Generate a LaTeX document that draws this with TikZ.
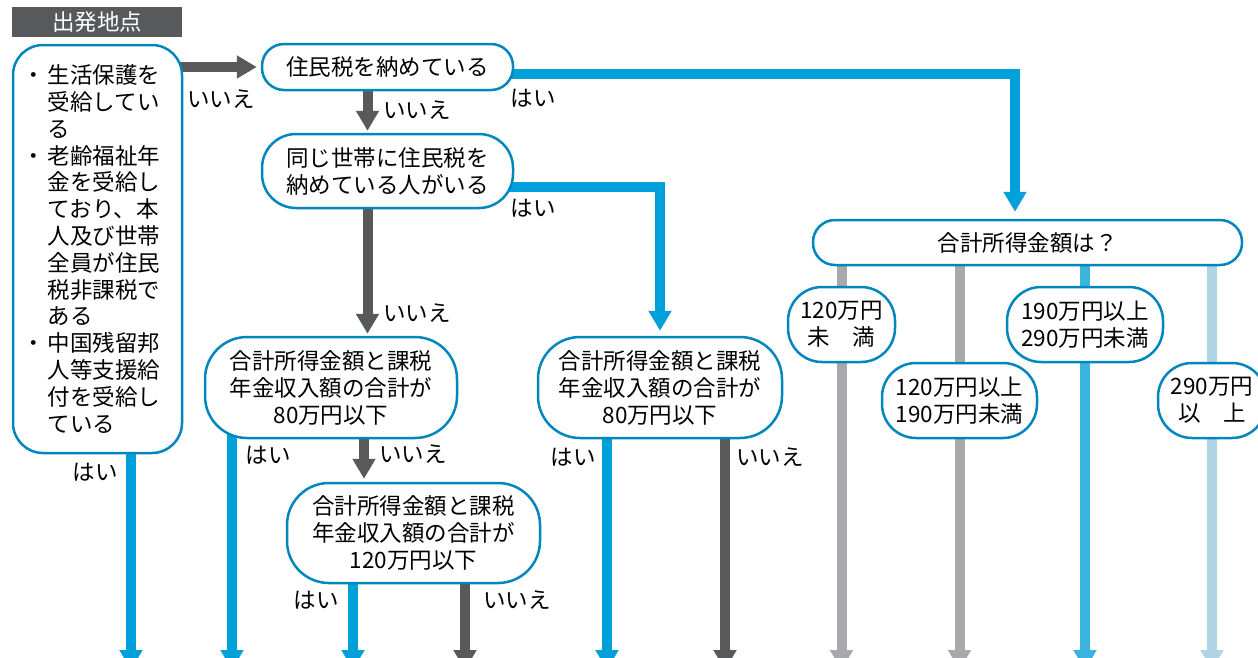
\documentclass[tikz,border=0pt]{standalone}
\usepackage{fontspec}
\setmainfont{Noto Sans CJK JP}
\usepackage{xcolor}
\usetikzlibrary{arrows.meta}
\usetikzlibrary{positioning}
\definecolor{frameblue}{RGB}{0,134,191}
\definecolor{headgray}{RGB}{88,89,91}
\definecolor{yesblue}{RGB}{0,160,218}
\definecolor{nogray}{RGB}{88,89,91}
\definecolor{lowgray}{RGB}{167,169,172}
\definecolor{midblue}{RGB}{59,180,224}
\definecolor{paleblue}{RGB}{174,212,230}
\pgfdeclarelayer{back}
\pgfsetlayers{back,main}
\tikzset{
  box/.style={draw=frameblue,line width=2.5pt,fill=white,inner sep=0pt,align=center},
  flow/.style={line width=10pt,-{Triangle[width=22pt,length=20pt]}},
  yes/.style={flow,draw=yesblue},
  no/.style={flow,draw=nogray},
  lbl/.style={inner sep=0pt},
}
\newcommand{\bul}{\makebox[1.15em][l]{・}}
\newcommand{\ind}{\hspace*{1.15em}}

\begin{document}
\begin{tikzpicture}[x=1pt,y=-1pt,font=\fontsize{22.5}{27}\selectfont]
      \useasboundingbox (0,0) rectangle (1258,657);
      \coordinate (bottom) at (0,670);
      %% start
      \node[fill=headgray,text=white,inner sep=0pt,minimum width=170pt,minimum height=30pt]
           (head) at (97,22) {出発地点};
      \node[box,rounded corners=30pt,minimum width=169pt,minimum height=408pt,
            text width=151pt,align=left,font=\fontsize{22.5}{26.8}\selectfont]
           (start) at (97.5,249)
           {\bul 生活保護を\\\ind 受給してい\\\ind る\\
            \bul 老齢福祉年\\\ind 金を受給し\\\ind ており、本\\\ind 人及び世帯\\
            \ind 全員が住民\\\ind 税非課税で\\\ind ある\\
            \bul 中国残留邦\\\ind 人等支援給\\\ind 付を受給し\\\ind ている};
      %% questions
      \node[box,rounded corners=22pt,minimum width=251pt,minimum height=46pt]
           (A) at (387.5,67) {住民税を納めている};
      \node[box,rounded corners=34pt,minimum width=251pt,minimum height=74pt]
           (B) at (387.5,171) {同じ世帯に住民税を\\納めている人がいる};
      \node[box,rounded corners=42pt,minimum width=252pt,minimum height=101pt]
           (C1) at (331,387.5) {合計所得金額と課税\\年金収入額の合計が\\80万円以下};
      \node[box,rounded corners=42pt,minimum width=253pt,minimum height=100pt]
           (C2) at (413.5,533) {合計所得金額と課税\\年金収入額の合計が\\120万円以下};
      \node[box,rounded corners=42pt,minimum width=244pt,minimum height=101pt]
           (D) at (660,387.5) {合計所得金額と課税\\年金収入額の合計が\\80万円以下};
      \node[box,rounded corners=22pt,minimum width=429pt,minimum height=45pt]
           (E) at (1027.5,242.5) {合計所得金額は？};
      %% income ranges
      \node[box,rounded corners=34pt,minimum width=107pt,minimum height=75pt]
           (F1) at (841.5,324.5) {120万円\\未　満};
      \node[box,rounded corners=34pt,minimum width=155pt,minimum height=75pt]
           (F2) at (959.5,400.5) {120万円以上\\190万円未満};
      \node[box,rounded corners=34pt,minimum width=156pt,minimum height=75pt]
           (F3) at (1085,324.5) {190万円以上\\290万円未満};
      \node[box,rounded corners=34pt,minimum width=108pt,minimum height=75pt]
           (F4) at (1212,400.5) {290万円\\以　上};
      %% labels
      \node[lbl] (n0) at (221,99) {いいえ};
      \node[lbl] (y0) at (95,472) {はい};
      \node[lbl] (nA) at (417,110) {いいえ};
      \node[lbl] (yA) at (533,98) {はい};
      \node[lbl] (nB) at (417,313) {いいえ};
      \node[lbl] (yB) at (533,208) {はい};
      \node[lbl] (yC1) at (268,455) {はい};
      \node[lbl] (nC1) at (413,454) {いいえ};
      \node[lbl] (yC2) at (316,600) {はい};
      \node[lbl] (nC2) at (517,600) {いいえ};
      \node[lbl] (yD) at (573,457) {はい};
      \node[lbl] (nD) at (770,457) {いいえ};
      %% connectors
      \begin{pgfonlayer}{back}
        \draw[no,shorten >=4pt] (start.center |- A.west) -- (A.west);
        \draw[yes] ([xshift=33.5pt]start.center) -- ([xshift=33.5pt]start.center |- bottom);
        \draw[no,shorten >=2pt] ([xshift=-20pt]A.center) -- ([xshift=-20pt]B.north);
        \draw[yes,shorten >=7pt] ([yshift=-7pt]A.center) -| ([xshift=-12.5pt]E.north);
        \draw[no,shorten >=2pt] ([xshift=-20pt]B.center) -- ([xshift=-20pt]B.center |- C1.north);
        \draw[yes,shorten >=5pt] ([yshift=-16pt]B.center) -| (D.north);
        \draw[yes] ([xshift=-99pt]C1.center) -- ([xshift=-99pt]C1.center |- bottom);
        \draw[no,shorten >=3pt] ([xshift=33pt]C1.center) -- ([xshift=33pt]C1.center |- C2.north);
        \draw[yes] ([xshift=-60.5pt]C2.center) -- ([xshift=-60.5pt]C2.center |- bottom);
        \draw[no] ([xshift=51.5pt]C2.center) -- ([xshift=51.5pt]C2.center |- bottom);
        \draw[yes] ([xshift=-53pt]D.center) -- ([xshift=-53pt]D.center |- bottom);
        \draw[no] ([xshift=65pt]D.center) -- ([xshift=65pt]D.center |- bottom);
        \draw[flow,draw=lowgray] (F1.center |- E.center) -- (F1.center |- bottom);
        \draw[flow,draw=lowgray] (F2.center |- E.center) -- (F2.center |- bottom);
        \draw[flow,draw=midblue] (F3.center |- E.center) -- (F3.center |- bottom);
        \draw[flow,draw=paleblue] (F4.center |- E.center) -- (F4.center |- bottom);
      \end{pgfonlayer}
\end{tikzpicture}
\end{document}
